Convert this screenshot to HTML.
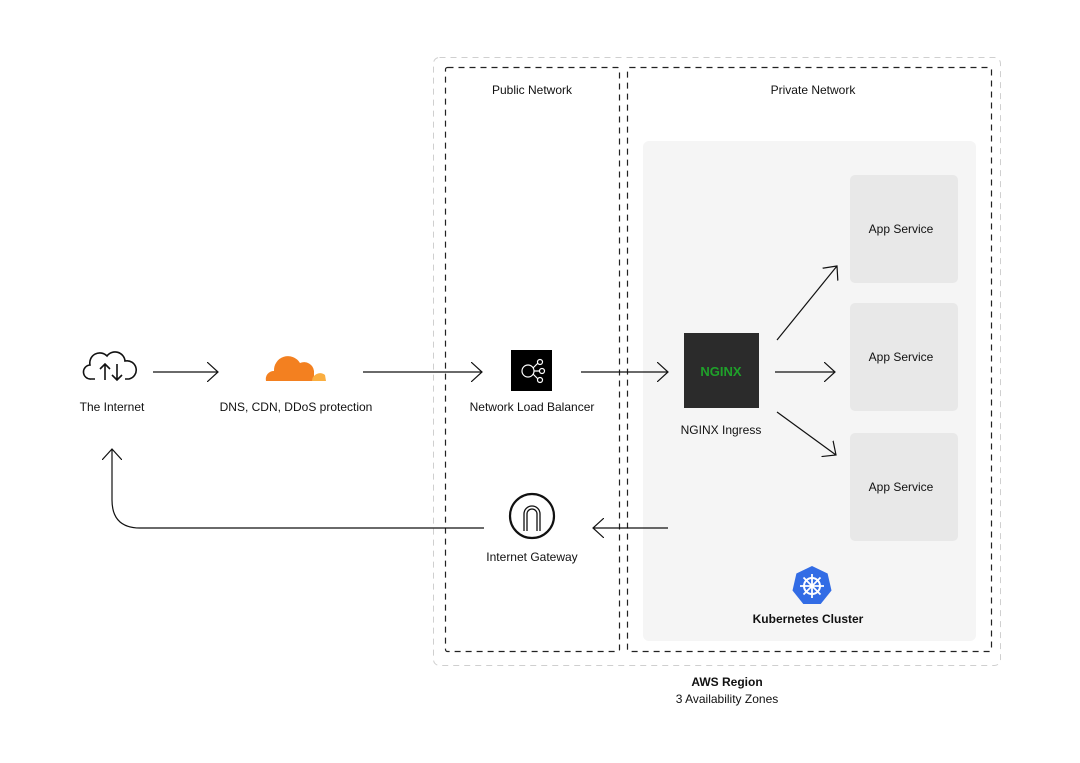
<!DOCTYPE html>
<html><head><meta charset="utf-8"><style>
html,body{margin:0;padding:0;background:#fff;}
svg{display:block;}
text{font-family:"Liberation Sans",sans-serif;fill:#111;}
</style></head><body>
<svg width="1080" height="763" viewBox="0 0 1080 763" xmlns="http://www.w3.org/2000/svg">
<defs>
<marker id="ah" viewBox="0 0 12 20" refX="11" refY="10" markerWidth="12" markerHeight="20" markerUnits="userSpaceOnUse" orient="auto">
<path d="M0,0 L11,10 L0,20" fill="none" stroke="#111" stroke-width="1.2"/>
</marker>
</defs>
<rect x="433.5" y="57.5" width="567" height="608" rx="6" fill="none" stroke="#cfcfcf" stroke-width="1" stroke-dasharray="6,5"/>
<rect x="445.5" y="67.5" width="174" height="584" rx="2" fill="none" stroke="#222" stroke-width="1.2" stroke-dasharray="6,5"/>
<rect x="627.5" y="67.5" width="364" height="584" rx="2" fill="none" stroke="#222" stroke-width="1.2" stroke-dasharray="6,5"/>
<text x="532" y="94" font-size="12" text-anchor="middle">Public Network</text>
<text x="813" y="94" font-size="12" text-anchor="middle">Private Network</text>
<rect x="643" y="141" width="333" height="500" rx="6" fill="#f5f5f5"/>
<rect x="850" y="175" width="108" height="108" rx="5" fill="#e8e8e8"/>
<rect x="850" y="303" width="108" height="108" rx="5" fill="#e8e8e8"/>
<rect x="850" y="433" width="108" height="108" rx="5" fill="#e8e8e8"/>
<text x="901" y="233" font-size="12" text-anchor="middle">App Service</text>
<text x="901" y="361" font-size="12" text-anchor="middle">App Service</text>
<text x="901" y="491" font-size="12" text-anchor="middle">App Service</text>
<rect x="684" y="333" width="75" height="75" fill="#2b2b2b"/>
<text x="721" y="376" font-size="13" font-weight="bold" fill="#1fa12a" style="fill:#1fa12a" text-anchor="middle">NGINX</text>
<text x="721" y="434" font-size="12" text-anchor="middle">NGINX Ingress</text>
<g transform="translate(812,586)">
<polygon points="0,-20 15.6,-12.5 19.5,4.5 8.7,18 -8.7,18 -19.5,4.5 -15.6,-12.5" fill="#326ce5"/>
<circle r="8" fill="none" stroke="#fff" stroke-width="2"/>
<g stroke="#fff" stroke-width="1.8"><line x1="0" y1="-12" x2="0" y2="12"/><line x1="-12" y1="0" x2="12" y2="0"/><line x1="-8.5" y1="-8.5" x2="8.5" y2="8.5"/><line x1="-8.5" y1="8.5" x2="8.5" y2="-8.5"/></g>
</g>
<text x="808" y="623" font-size="12" font-weight="bold" text-anchor="middle">Kubernetes Cluster</text>
<text x="727" y="686" font-size="12" font-weight="bold" text-anchor="middle">AWS Region</text>
<text x="727" y="703" font-size="12" text-anchor="middle">3 Availability Zones</text>
<!-- internet cloud -->
<g fill="none" stroke="#111" stroke-width="1.6">
<path d="M95,379 h-4 a7,7 0 0 1 -1,-14 a10,10 0 0 1 17,-9 a10,10 0 0 1 18,5 a7,7 0 0 1 4,18 h-4"/>
<path d="M105,380 v-16 M100,369 l5,-5 5,5 M117,364 v16 M112,375 l5,5 5,-5"/>
</g>
<text x="112" y="411" font-size="12" text-anchor="middle">The Internet</text>
<!-- cloudflare -->
<path d="M266,381 a8,8 0 0 1 8,-10 a14,14 0 0 1 26,-8 a10,10 0 0 1 14,8 l0,10 z" fill="#f38020"/>
<path d="M312,381 a8,8 0 0 1 13,-6 l1,6 z" fill="#faae40"/>
<text x="296" y="411" font-size="12" text-anchor="middle">DNS, CDN, DDoS protection</text>
<!-- NLB -->
<rect x="511" y="350" width="41" height="41" fill="#000"/>
<g fill="none" stroke="#fff" stroke-width="1.2"><circle cx="528" cy="371" r="6"/><circle cx="540" cy="362" r="2.5"/><circle cx="542" cy="371" r="2.5"/><circle cx="540" cy="380" r="2.5"/><path d="M533,368 L538,363 M534,371 L539.5,371 M533,374 L538,379"/></g>
<text x="532" y="411" font-size="12" text-anchor="middle">Network Load Balancer</text>
<!-- IGW -->
<circle cx="532" cy="516" r="22" fill="none" stroke="#111" stroke-width="2.2"/>
<path d="M524,531 v-17 a8,8 0 0 1 16,0 v17 M527,531 v-17 a5,5 0 0 1 10,0 v17" fill="none" stroke="#111" stroke-width="1.3"/>
<text x="532" y="561" font-size="12" text-anchor="middle">Internet Gateway</text>
<!-- arrows -->
<g stroke="#111" stroke-width="1.2" fill="none" marker-end="url(#ah)">
<line x1="153" y1="372" x2="218" y2="372"/>
<line x1="363" y1="372" x2="482" y2="372"/>
<line x1="581" y1="372" x2="668" y2="372"/>
<line x1="775" y1="372" x2="835" y2="372"/>
<line x1="777" y1="340" x2="837" y2="266"/>
<line x1="777" y1="412" x2="836" y2="455"/>
<line x1="668" y1="528" x2="593" y2="528"/>
<path d="M484,528 H140 Q112,528 112,500 V449"/>
</g>
</svg>
</body></html>
